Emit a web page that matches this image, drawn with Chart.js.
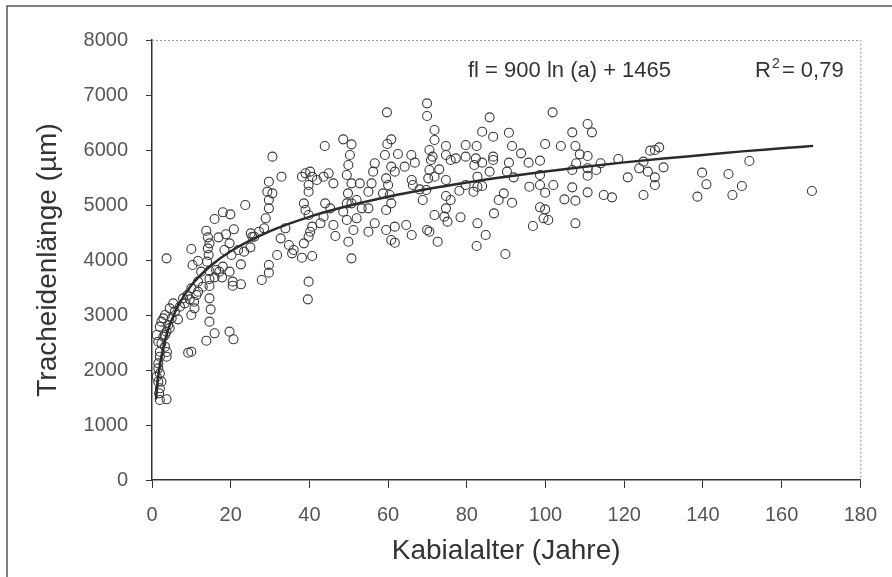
<!DOCTYPE html>
<html>
<head>
<meta charset="utf-8">
<script src="https://cdn.jsdelivr.net/npm/chart.js@4.4.1/dist/chart.umd.min.js"></script>
<style>
  html, body { margin: 0; padding: 0; background: #fff; }
  canvas { display: block; }
</style>
</head>
<body>
<canvas id="chart" width="892" height="577"></canvas>
<script>
// Werte
const ageYears = [
  23.7, 15.9, 18, 19.9, 13.8, 14.2, 14.6, 14.2, 14.4, 16.9, 18.8, 20.8, 19.7, 18.4, 20.2, 21.9, 22.6, 25, 25.5, 10,
  3.7, 10.3, 11.7, 14, 12.5, 14.6, 14.6, 14.6, 15.9, 17.1, 17.8, 19.7, 20.5, 20.5, 22.6, 11.7, 10, 11.3, 9.6, 10.7,
  10.8, 10, 9, 7.9, 14.6, 14.9, 14.6, 15.9, 13.8, 19.7, 20.7, 9.2, 10, 5.4, 4.5, 3.3, 2.4, 2.9, 2, 1.2,
  1.6, 3.3, 3.7, 2, 1.6, 2, 1.6, 2, 1.8, 2, 3.7, 6.6, 4.5, 3.3, 3.8, 25.1, 26, 27.2, 23.4, 18,
  16.3, 12.9, 11.7, 8.3, 7.1, 5.8, 5, 4.1, 3.7, 2.9, 2.4, 2, 1.6, 1.2, 2.4,
  30.6, 32.9, 29.7, 29.3, 30.6, 29.7, 29.7, 28.9, 28.5, 33.9, 32.7, 34.8, 36, 35.6, 31.8, 29.7, 29.7, 27.9,
  43.9, 48.6, 50.7, 50.3, 49.9, 49.5, 50.7, 49.8, 60.8, 59.8, 59.2, 62.5, 56.6, 56.2, 60.8, 61.7, 59.5, 60, 55.8, 55,
  58.7, 60.4, 64.2, 64.6, 61.7, 59.5, 60.8, 59.5, 56.6, 55, 60.8, 61.7, 50.7, 38.1, 39, 40.2, 40.7, 39.8, 39.8, 41.9,
  43.6, 44.9, 46.1, 38.6, 39, 39.8, 40.7, 40.2, 39.8, 38.6, 40.7, 38.1, 39.8, 39.6, 44, 45.3, 43.6, 46.1, 46.6, 42.8,
  49.5, 50.7, 52, 53.3, 52, 51.2, 49.5, 49.9, 52.8, 48.6, 55, 59.7,
  69.9, 69.9, 85.8, 101.8, 71.8, 71.8, 74.7, 70.5, 70.9, 70.5, 70.2, 71.8, 73, 71.3, 65.9, 66.8, 66, 66.3, 69.7, 68,
  74.7, 75.9, 77.2, 79.7, 79.7, 82.5, 82.3, 83.9, 81.9, 86.7, 83.9, 86.7, 86.7, 90.7, 91.5, 93.8, 90.7, 90.2, 91.9, 85.8,
  82.7, 82.7, 81.7, 83.9, 79.7, 78.1, 74.7, 95.7, 98.6, 99.9, 98.6, 98.6, 102, 99.9, 95.9, 98.6, 99.9, 99.5, 100.7, 96.8,
  68.8, 71.8, 74.7, 74.7, 74.3, 75.1, 75.9, 78.4, 82.7, 84.8, 82.5, 89.8, 91.5, 88.1, 89.4, 86.9, 66, 69.9, 70.5, 72.6,
  110.7, 111.8, 106.8, 103.9, 107.6, 108.7, 110.7, 107.8, 106.8, 110.7, 110.7, 112.9, 114, 118.5, 126.6, 127.8, 128.9, 124.9, 123.8, 126,
  127.8, 127.8, 130, 120.9, 124.9, 116.9, 114.8, 110.7, 107.6, 104.8, 106.8, 107.6, 139.8, 140.9, 138.6,
  151.8, 146.5, 149.9, 147.5, 167.7
];
const lengthUm = [
  5000, 4745, 4867, 4830, 4533, 4412, 4303, 4212, 4090, 4412, 4467, 4558, 4303, 4182, 4090, 4182, 3921, 4230, 4424, 4200,
  4030, 3909, 3982, 3970, 3788, 3800, 3655, 3527, 3685, 3788, 3685, 3788, 3606, 3533, 3558, 3606, 3485, 3364, 3285, 3242,
  3121, 3000, 3364, 3303, 3303, 3103, 2879, 2667, 2533, 2697, 2558, 2315, 2333, 3212, 3121, 3000, 2879, 2939, 2788, 2636,
  2515, 2424, 2242, 2333, 2121, 1939, 1788, 1667, 1576, 1455, 1467, 2921, 2764, 2636, 2327, 4485, 4424, 4515, 4152, 3879,
  3818, 3515, 3424, 3212, 3152, 3061, 2939, 2818, 2697, 2606, 2485, 2242, 2030, 1879, 1788,
  5879, 5515, 5424, 5242, 5212, 5091, 4939, 4758, 4576, 4576, 4394, 4273, 4182, 4121, 4090, 3909, 3770, 3636,
  6073, 6194, 6103, 5909, 5727, 5545, 5394, 5212, 6194, 6109, 5909, 5927, 5758, 5606, 5697, 5606, 5485, 5364, 5394, 5242,
  5212, 5182, 5697, 4636, 4606, 4545, 5030, 4909, 4667, 4515, 4364, 4315, 4030, 5515, 5576, 5606, 5515, 5364, 5242, 5455,
  5515, 5576, 5394, 5030, 4909, 4818, 4606, 4515, 4424, 4303, 4073, 4042, 3606, 3285, 5030, 4939, 4788, 4636, 4436, 4667,
  5030, 5030, 5091, 4939, 4758, 4545, 4727, 4333, 5394, 4879, 4939, 6685,
  6848, 6618, 6594, 6685, 6364, 6182, 6073, 6000, 5818, 5636, 5485, 5515, 5648, 5879, 5909, 5770, 5455, 5364, 5273, 5285,
  5909, 5818, 5848, 6091, 5879, 6073, 5848, 5770, 5727, 6242, 6333, 5879, 5818, 6315, 6073, 5939, 5770, 5606, 5503, 5606,
  5515, 5333, 5242, 5345, 5364, 5260, 5455, 5770, 5806, 6109, 5545, 5364, 5364, 5224, 5333, 4958, 4921, 4758, 4727, 4618,
  5091, 4818, 5164, 4939, 4788, 4697, 5091, 4776, 4667, 4455, 4255, 4109, 5042, 5091, 5212, 4848, 4455, 4545, 4515, 4333,
  6473, 6321, 6321, 6073, 6073, 5921, 5891, 5758, 5636, 5667, 5533, 5636, 5758, 5836, 5988, 6000, 6048, 5788, 5667, 5606,
  5503, 5364, 5685, 5503, 5182, 5139, 5182, 5230, 5079, 5103, 5321, 4667, 5588, 5376, 5152,
  5800, 5564, 5345, 5182, 5254
];

const fitAge    = [1, 1.5, 2, 3, 4, 5, 7, 10, 15, 20, 30, 40, 50, 60, 70, 80, 90, 100, 110, 120, 130, 140, 150, 160, 168];
const fitLength = [1465, 1830, 2090, 2450, 2710, 2910, 3215, 3540, 3900, 4160, 4525, 4785, 4985, 5150, 5290, 5410, 5515, 5610, 5695, 5775, 5845, 5910, 5975, 6030, 6075];

const xTicks = [0, 20, 40, 60, 80, 100, 120, 140, 160, 180];
const yTicks = [0, 1000, 2000, 3000, 4000, 5000, 6000, 7000, 8000];

const xTitle = 'Kabialalter (Jahre)';
const yTitle = 'Tracheidenlänge (µm)';
const formelText = 'fl = 900 ln (a) + 1465';
const r2Wert = '0,79';

const FONT = '"Liberation Sans", Arial, sans-serif';

const punkte = ageYears.map((a, i) => ({ x: a, y: lengthUm[i] }));
const kurve  = fitAge.map((a, i) => ({ x: a, y: fitLength[i] }));

// Rahmen, gepunktete Plotgrenze und Formeltexte
const deko = {
  id: 'deko',
  beforeDraw(chart) {
    const ctx = chart.ctx;
    ctx.save();
    ctx.fillStyle = '#fff';
    ctx.fillRect(0, 0, chart.width, chart.height);
    ctx.strokeStyle = '#555';
    ctx.lineWidth = 1.5;
    ctx.beginPath();
    ctx.moveTo(7, chart.height);
    ctx.lineTo(7, 6);
    ctx.lineTo(chart.width, 6);
    ctx.stroke();
    ctx.restore();
  },
  afterDraw(chart) {
    const ctx = chart.ctx;
    const a = chart.chartArea;
    ctx.save();
    ctx.strokeStyle = '#999';
    ctx.lineWidth = 1;
    ctx.setLineDash([2, 2]);
    ctx.beginPath();
    ctx.moveTo(a.left, a.top + 0.5);
    ctx.lineTo(a.right + 0.5, a.top + 0.5);
    ctx.lineTo(a.right + 0.5, a.bottom);
    ctx.stroke();
    ctx.setLineDash([]);

    ctx.fillStyle = '#333';
    ctx.textBaseline = 'alphabetic';
    ctx.textAlign = 'left';
    ctx.font = '22px ' + FONT;
    ctx.fillText(formelText, a.left + 316, a.top + 37);

    const rx = a.left + 603;
    ctx.fillText('R', rx, a.top + 37);
    const rw = ctx.measureText('R').width;
    ctx.font = '14px ' + FONT;
    ctx.fillText('2', rx + rw + 1, a.top + 28);
    ctx.font = '22px ' + FONT;
    ctx.fillText('= ' + r2Wert, rx + rw + 11, a.top + 37);
    ctx.restore();
  }
};

new Chart(document.getElementById('chart'), {
  type: 'scatter',
  data: {
    datasets: [
      {
        type: 'line',
        data: kurve,
        borderColor: '#2b2b2b',
        borderWidth: 2.5,
        pointRadius: 0,
        fill: false,
        cubicInterpolationMode: 'monotone',
        order: 0
      },
      {
        data: punkte,
        pointStyle: 'circle',
        pointRadius: 4.5,
        pointBorderWidth: 1.1,
        pointBorderColor: '#3a3a3a',
        pointBackgroundColor: 'rgba(0,0,0,0)',
        order: 1
      }
    ]
  },
  options: {
    responsive: false,
    animation: false,
    layout: { padding: { top: 40, right: 26, left: 0, bottom: 0 } },
    plugins: {
      legend: { display: false },
      tooltip: { enabled: false }
    },
    scales: {
      x: {
        type: 'linear',
        min: xTicks[0],
        max: xTicks[xTicks.length - 1],
        afterBuildTicks: s => { s.ticks = xTicks.map(v => ({ value: v })); },
        afterFit: s => { s.height = 97; },
        ticks: {
          font: { family: FONT, size: 20 }, color: '#555', padding: 15, maxRotation: 0,
          callback: v => String(v)
        },
        grid: { drawOnChartArea: false, drawTicks: true, tickLength: 8, color: '#333' },
        border: { color: '#333', width: 1.5 },
        title: {
          display: true, text: xTitle, color: '#333',
          font: { family: FONT, size: 28 },
          padding: { top: 0, bottom: 9 }
        }
      },
      y: {
        type: 'linear',
        min: yTicks[0],
        max: yTicks[yTicks.length - 1],
        afterBuildTicks: s => { s.ticks = yTicks.map(v => ({ value: v })); },
        afterFit: s => { s.width = 152; },
        ticks: {
          font: { family: FONT, size: 20 }, color: '#555', padding: 18,
          callback: v => String(v)
        },
        grid: { drawOnChartArea: false, drawTicks: true, tickLength: 6, color: '#333' },
        border: { color: '#333', width: 1.5 },
        title: {
          display: true, text: yTitle, color: '#333',
          font: { family: FONT, size: 28 },
          padding: { top: 31, bottom: 0 }
        }
      }
    }
  },
  plugins: [deko]
});
</script>
</body>
</html>
